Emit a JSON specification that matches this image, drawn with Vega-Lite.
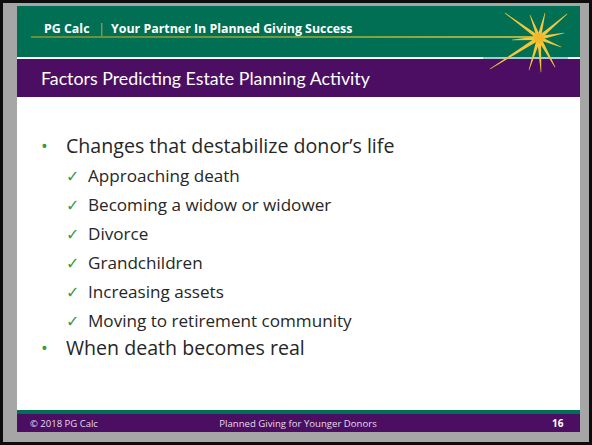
{
  "$schema": "https://vega.github.io/schema/vega-lite/v6.json",
  "width": 592,
  "height": 445,
  "padding": 0,
  "autosize": {"type": "none"},
  "background": "#ffffff",
  "config": {"view": {"stroke": null}, "axis": {"disable": true}},
  "datasets": {
    "boxes": [
      {"part": "frame", "x": 0, "x2": 592, "y": 0, "y2": 445},
      {"part": "margin", "x": 3, "x2": 589, "y": 3, "y2": 442},
      {"part": "slide", "x": 17, "x2": 580, "y": 6, "y2": 432},
      {"part": "header", "x": 17, "x2": 580, "y": 6, "y2": 57},
      {"part": "divider", "x": 483, "x2": 568, "y": 57, "y2": 59},
      {"part": "titlebar", "x": 17, "x2": 580, "y": 59, "y2": 97},
      {"part": "header", "x": 17, "x2": 580, "y": 410, "y2": 414},
      {"part": "titlebar", "x": 17, "x2": 580, "y": 414, "y2": 432}
    ],
    "goldline": [{"x": 31, "x2": 540, "y": 36.3, "y2": 37.8}],
    "rays": [
      {"ray": "a", "end": "center", "x": 539, "y": 38}, {"ray": "a", "end": "tip", "x": 505, "y": 13},
      {"ray": "b", "end": "center", "x": 539, "y": 38}, {"ray": "b", "end": "tip", "x": 530, "y": 15},
      {"ray": "c", "end": "center", "x": 539, "y": 38}, {"ray": "c", "end": "tip", "x": 545, "y": 13},
      {"ray": "d", "end": "center", "x": 539, "y": 38}, {"ray": "d", "end": "tip", "x": 567, "y": 14},
      {"ray": "e", "end": "center", "x": 539, "y": 38}, {"ray": "e", "end": "tip", "x": 564, "y": 33},
      {"ray": "f", "end": "center", "x": 539, "y": 38}, {"ray": "f", "end": "tip", "x": 561, "y": 47},
      {"ray": "g", "end": "center", "x": 539, "y": 38}, {"ray": "g", "end": "tip", "x": 555, "y": 67},
      {"ray": "h", "end": "center", "x": 539, "y": 38}, {"ray": "h", "end": "tip", "x": 541, "y": 72},
      {"ray": "i", "end": "center", "x": 539, "y": 38}, {"ray": "i", "end": "tip", "x": 529, "y": 70},
      {"ray": "j", "end": "center", "x": 539, "y": 38}, {"ray": "j", "end": "tip", "x": 490, "y": 69},
      {"ray": "k", "end": "center", "x": 539, "y": 38}, {"ray": "k", "end": "tip", "x": 512, "y": 40}
    ],
    "glow": [{"x": 539, "y": 38}],
    "texts": [
      {"kind": "header", "text": "PG Calc", "x": 44, "y": 33},
      {"kind": "sep", "text": "|", "x": 98, "y": 33},
      {"kind": "header", "text": "Your Partner In Planned Giving Success", "x": 111, "y": 33},
      {"kind": "title", "text": "Factors Predicting Estate Planning Activity", "x": 41, "y": 85},
      {"kind": "bullet", "text": "•", "x": 41, "y": 153},
      {"kind": "main", "text": "Changes that destabilize donor’s life", "x": 66, "y": 153},
      {"kind": "check", "text": "✓", "x": 66, "y": 182},
      {"kind": "sub", "text": "Approaching death", "x": 88, "y": 182},
      {"kind": "check", "text": "✓", "x": 66, "y": 211},
      {"kind": "sub", "text": "Becoming a widow or widower", "x": 88, "y": 211},
      {"kind": "check", "text": "✓", "x": 66, "y": 240},
      {"kind": "sub", "text": "Divorce", "x": 88, "y": 240},
      {"kind": "check", "text": "✓", "x": 66, "y": 269},
      {"kind": "sub", "text": "Grandchildren", "x": 88, "y": 269},
      {"kind": "check", "text": "✓", "x": 66, "y": 298},
      {"kind": "sub", "text": "Increasing assets", "x": 88, "y": 298},
      {"kind": "check", "text": "✓", "x": 66, "y": 327},
      {"kind": "sub", "text": "Moving to retirement community", "x": 88, "y": 327},
      {"kind": "bullet", "text": "•", "x": 41, "y": 355},
      {"kind": "main", "text": "When death becomes real", "x": 66, "y": 355},
      {"kind": "footL", "text": "© 2018 PG Calc", "x": 30, "y": 427},
      {"kind": "footC", "text": "Planned Giving for Younger Donors", "x": 298, "y": 427},
      {"kind": "footR", "text": "16", "x": 552, "y": 427}
    ]
  },
  "layer": [
    {
      "data": {"name": "boxes"},
      "mark": {"type": "rect"},
      "encoding": {
        "x": {"field": "x", "type": "quantitative", "scale": {"domain": [0, 592], "nice": false, "zero": false}, "axis": null},
        "x2": {"field": "x2"},
        "y": {"field": "y", "type": "quantitative", "scale": {"domain": [0, 445], "nice": false, "zero": false, "reverse": true}, "axis": null},
        "y2": {"field": "y2"},
        "color": {
          "field": "part", "type": "nominal", "legend": null,
          "scale": {
            "domain": ["frame", "margin", "slide", "header", "divider", "titlebar"],
            "range": ["#0d0d0d", "#a6a6a6", "#ffffff", "#006f53", "#a9c6d6", "#4b0e62"]
          }
        }
      }
    },
    {
      "data": {"name": "goldline"},
      "mark": {"type": "rect", "fill": {"gradient": "linear", "x1": 0, "x2": 1, "y1": 0, "y2": 0, "stops": [{"offset": 0, "color": "#8a9a2a"}, {"offset": 0.6, "color": "#a3ad33"}, {"offset": 1, "color": "#f2cf3a"}]}},
      "encoding": {
        "x": {"field": "x", "type": "quantitative", "scale": {"domain": [0, 592], "nice": false, "zero": false}, "axis": null},
        "x2": {"field": "x2"},
        "y": {"field": "y", "type": "quantitative", "scale": {"domain": [0, 445], "nice": false, "zero": false, "reverse": true}, "axis": null},
        "y2": {"field": "y2"}
      }
    },
    {
      "data": {"name": "rays"},
      "mark": {"type": "trail", "color": "#f4c73a"},
      "encoding": {
        "x": {"field": "x", "type": "quantitative", "scale": {"domain": [0, 592], "nice": false, "zero": false}, "axis": null},
        "y": {"field": "y", "type": "quantitative", "scale": {"domain": [0, 445], "nice": false, "zero": false, "reverse": true}, "axis": null},
        "detail": {"field": "ray", "type": "nominal"},
        "order": {"field": "end", "type": "nominal"},
        "size": {"field": "end", "type": "nominal", "legend": null, "scale": {"domain": ["center", "tip"], "range": [4, 0.6]}}
      }
    },
    {
      "data": {"name": "glow"},
      "mark": {"type": "point", "filled": true, "color": "#f6b62c", "opacity": 1, "size": 110},
      "encoding": {
        "x": {"field": "x", "type": "quantitative", "scale": {"domain": [0, 592], "nice": false, "zero": false}, "axis": null},
        "y": {"field": "y", "type": "quantitative", "scale": {"domain": [0, 445], "nice": false, "zero": false, "reverse": true}, "axis": null}
      }
    },
    {
      "data": {"name": "texts"},
      "transform": [{"filter": "datum.kind === 'header'"}],
      "mark": {"type": "text", "align": "left", "baseline": "alphabetic", "font": "Open Sans", "fontWeight": "bold", "fontSize": 12.4, "color": "#ffffff"},
      "encoding": {
        "x": {"field": "x", "type": "quantitative", "scale": {"domain": [0, 592], "nice": false, "zero": false}, "axis": null},
        "y": {"field": "y", "type": "quantitative", "scale": {"domain": [0, 445], "nice": false, "zero": false, "reverse": true}, "axis": null},
        "text": {"field": "text"}
      }
    },
    {
      "data": {"name": "texts"},
      "transform": [{"filter": "datum.kind === 'sep'"}],
      "mark": {"type": "text", "align": "left", "baseline": "alphabetic", "font": "Open Sans", "fontSize": 13, "color": "#b5b83c"},
      "encoding": {
        "x": {"field": "x", "type": "quantitative", "scale": {"domain": [0, 592], "nice": false, "zero": false}, "axis": null},
        "y": {"field": "y", "type": "quantitative", "scale": {"domain": [0, 445], "nice": false, "zero": false, "reverse": true}, "axis": null},
        "text": {"field": "text"}
      }
    },
    {
      "data": {"name": "texts"},
      "transform": [{"filter": "datum.kind === 'title'"}],
      "mark": {"type": "text", "align": "left", "baseline": "alphabetic", "font": "Lato", "fontSize": 17.8, "color": "#ffffff"},
      "encoding": {
        "x": {"field": "x", "type": "quantitative", "scale": {"domain": [0, 592], "nice": false, "zero": false}, "axis": null},
        "y": {"field": "y", "type": "quantitative", "scale": {"domain": [0, 445], "nice": false, "zero": false, "reverse": true}, "axis": null},
        "text": {"field": "text"}
      }
    },
    {
      "data": {"name": "texts"},
      "transform": [{"filter": "datum.kind === 'bullet'"}],
      "mark": {"type": "text", "align": "left", "baseline": "alphabetic", "font": "Open Sans", "fontSize": 18, "color": "#3a9a3c"},
      "encoding": {
        "x": {"field": "x", "type": "quantitative", "scale": {"domain": [0, 592], "nice": false, "zero": false}, "axis": null},
        "y": {"field": "y", "type": "quantitative", "scale": {"domain": [0, 445], "nice": false, "zero": false, "reverse": true}, "axis": null},
        "text": {"field": "text"}
      }
    },
    {
      "data": {"name": "texts"},
      "transform": [{"filter": "datum.kind === 'main'"}],
      "mark": {"type": "text", "align": "left", "baseline": "alphabetic", "font": "Open Sans", "fontSize": 19.6, "color": "#262626"},
      "encoding": {
        "x": {"field": "x", "type": "quantitative", "scale": {"domain": [0, 592], "nice": false, "zero": false}, "axis": null},
        "y": {"field": "y", "type": "quantitative", "scale": {"domain": [0, 445], "nice": false, "zero": false, "reverse": true}, "axis": null},
        "text": {"field": "text"}
      }
    },
    {
      "data": {"name": "texts"},
      "transform": [{"filter": "datum.kind === 'check'"}],
      "mark": {"type": "text", "align": "left", "baseline": "alphabetic", "font": "DejaVu Sans", "fontSize": 16, "color": "#3a9a3c"},
      "encoding": {
        "x": {"field": "x", "type": "quantitative", "scale": {"domain": [0, 592], "nice": false, "zero": false}, "axis": null},
        "y": {"field": "y", "type": "quantitative", "scale": {"domain": [0, 445], "nice": false, "zero": false, "reverse": true}, "axis": null},
        "text": {"field": "text"}
      }
    },
    {
      "data": {"name": "texts"},
      "transform": [{"filter": "datum.kind === 'sub'"}],
      "mark": {"type": "text", "align": "left", "baseline": "alphabetic", "font": "Open Sans", "fontSize": 17.1, "color": "#262626"},
      "encoding": {
        "x": {"field": "x", "type": "quantitative", "scale": {"domain": [0, 592], "nice": false, "zero": false}, "axis": null},
        "y": {"field": "y", "type": "quantitative", "scale": {"domain": [0, 445], "nice": false, "zero": false, "reverse": true}, "axis": null},
        "text": {"field": "text"}
      }
    },
    {
      "data": {"name": "texts"},
      "transform": [{"filter": "datum.kind === 'footL'"}],
      "mark": {"type": "text", "align": "left", "baseline": "alphabetic", "font": "Open Sans", "fontSize": 9.5, "color": "#e6dcec"},
      "encoding": {
        "x": {"field": "x", "type": "quantitative", "scale": {"domain": [0, 592], "nice": false, "zero": false}, "axis": null},
        "y": {"field": "y", "type": "quantitative", "scale": {"domain": [0, 445], "nice": false, "zero": false, "reverse": true}, "axis": null},
        "text": {"field": "text"}
      }
    },
    {
      "data": {"name": "texts"},
      "transform": [{"filter": "datum.kind === 'footC'"}],
      "mark": {"type": "text", "align": "center", "baseline": "alphabetic", "font": "Open Sans", "fontSize": 9.6, "color": "#e6dcec"},
      "encoding": {
        "x": {"field": "x", "type": "quantitative", "scale": {"domain": [0, 592], "nice": false, "zero": false}, "axis": null},
        "y": {"field": "y", "type": "quantitative", "scale": {"domain": [0, 445], "nice": false, "zero": false, "reverse": true}, "axis": null},
        "text": {"field": "text"}
      }
    },
    {
      "data": {"name": "texts"},
      "transform": [{"filter": "datum.kind === 'footR'"}],
      "mark": {"type": "text", "align": "left", "baseline": "alphabetic", "font": "Open Sans", "fontWeight": "bold", "fontSize": 10, "color": "#ffffff"},
      "encoding": {
        "x": {"field": "x", "type": "quantitative", "scale": {"domain": [0, 592], "nice": false, "zero": false}, "axis": null},
        "y": {"field": "y", "type": "quantitative", "scale": {"domain": [0, 445], "nice": false, "zero": false, "reverse": true}, "axis": null},
        "text": {"field": "text"}
      }
    }
  ]
}
